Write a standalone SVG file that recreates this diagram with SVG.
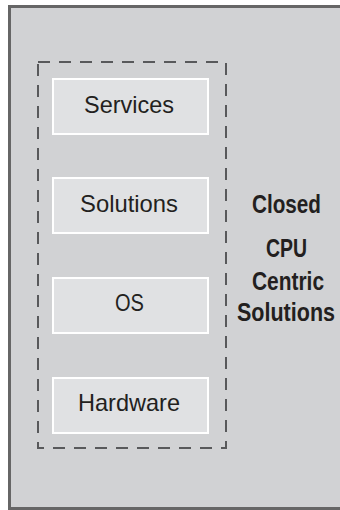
<svg xmlns="http://www.w3.org/2000/svg" width="340" height="510" viewBox="0 0 340 510">
<style>
.frame{fill:#d1d2d4;stroke:#666;stroke-width:3}
.group{fill:none;stroke:#58595b;stroke-width:2;stroke-dasharray:12 9}
.box{fill:#e0e1e3;stroke:#fff;stroke-width:2}
.lbl{font-family:"Liberation Sans",Arial,sans-serif;font-size:24px;fill:#231f20;text-anchor:middle}
.side{font-family:"Liberation Sans",Arial,sans-serif;font-size:26px;font-weight:bold;fill:#231f20;text-anchor:middle}
</style>
<rect class="frame" x="9.5" y="6.5" width="340" height="502"/>
<g id="connectors"></g>
<g id="closed-group">
<rect class="group" x="38" y="62" width="188" height="386"/>
</g>
<g id="services">
<rect class="box" x="53" y="79" width="155" height="55"/>
<text class="lbl" x="129" y="112.5" textLength="90" lengthAdjust="spacingAndGlyphs">Services</text>
</g>
<g id="solutions">
<rect class="box" x="53" y="178" width="155" height="55"/>
<text class="lbl" x="129" y="212" textLength="98" lengthAdjust="spacingAndGlyphs">Solutions</text>
</g>
<g id="os">
<rect class="box" x="53" y="278" width="155" height="55"/>
<text class="lbl" x="129.5" y="311" textLength="29" lengthAdjust="spacingAndGlyphs">OS</text>
</g>
<g id="hardware">
<rect class="box" x="53" y="378" width="155" height="55"/>
<text class="lbl" x="129" y="411" textLength="102" lengthAdjust="spacingAndGlyphs">Hardware</text>
</g>
<g id="label">
<text class="side" x="286.5" y="213" textLength="69" lengthAdjust="spacingAndGlyphs">Closed</text>
<text class="side" x="286.5" y="257" textLength="41" lengthAdjust="spacingAndGlyphs">CPU</text>
<text class="side" x="288" y="290" textLength="72" lengthAdjust="spacingAndGlyphs">Centric</text>
<text class="side" x="286" y="321" textLength="98" lengthAdjust="spacingAndGlyphs">Solutions</text>
</g>
</svg>
